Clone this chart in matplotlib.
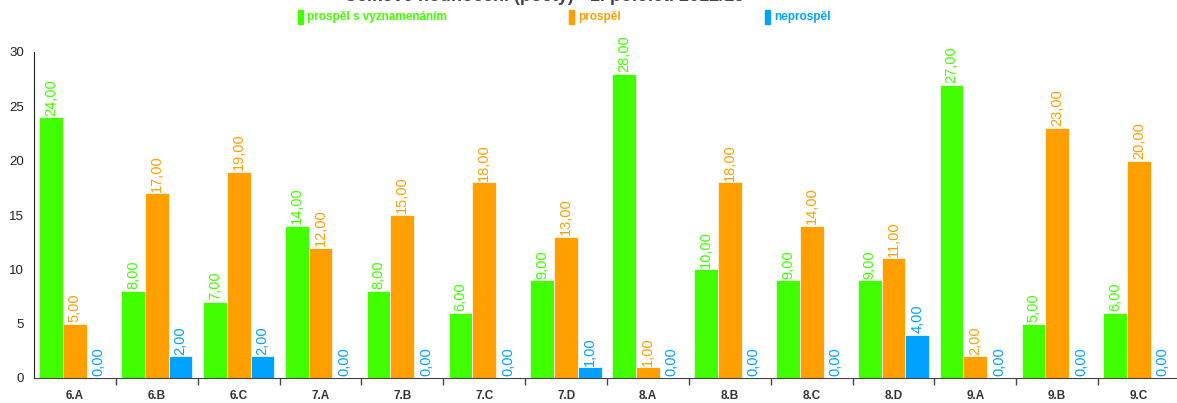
import numpy as np
import matplotlib.pyplot as plt
from matplotlib.patches import Rectangle

tridy = ["6.A", "6.B", "6.C", "7.A", "7.B", "7.C", "7.D",
         "8.A", "8.B", "8.C", "8.D", "9.A", "9.B", "9.C"]
vyznamenani = [24, 8, 7, 14, 8, 6, 9, 28, 10, 9, 9, 27, 5, 6]
prospel = [5, 17, 19, 12, 15, 18, 13, 1, 18, 14, 11, 2, 23, 20]
neprospel = [0, 2, 2, 0, 0, 0, 1, 0, 0, 0, 4, 0, 0, 0]

nazvy = ["prospěl s vyznamenáním", "prospěl", "neprospěl"]
barvy = ["#42ff00", "#ff9f00", "#00a2ff"]
titulek = "Celkové hodnocení (počty) - 1. pololetí 2012/13"

plt.rcParams['font.family'] = ['Liberation Sans', 'DejaVu Sans']

fig = plt.figure(figsize=(11.77, 4.03), dpi=100)
ax = fig.add_axes([34/1177, 25/403, 1146/1177, 326/403])

x = np.arange(len(tridy))
w = 0.29
for i, (hodnoty, barva) in enumerate(zip([vyznamenani, prospel, neprospel], barvy)):
    pos = x + (i - 1) * w
    ax.bar(pos, hodnoty, width=w, color=barva, edgecolor="white", linewidth=0.5)
    for px, v in zip(pos, hodnoty):
        ax.text(px, v + 0.15, f"{v:.2f}".replace(".", ","), rotation=90,
                ha="center", va="bottom", color=barva, fontsize=10.5)

ax.set_xlim(-0.5, len(tridy) - 0.5)
ax.set_ylim(0, 30)
ax.set_yticks([0, 5, 10, 15, 20, 25, 30])
ax.tick_params(axis="y", length=0, labelsize=9.5, labelcolor="#222222", pad=7)

# popisky trid pod osou, carky mezi skupinami
ax.set_xticks(x[:-1] + 0.5)
ax.set_xticklabels([])
ax.tick_params(axis="x", direction="out", length=5, width=1, color="#444444")
for xi, t in zip(x, tridy):
    ax.text(xi, -1.1, t, ha="center", va="top", fontsize=8.5, fontweight="bold",
            color="#333333")

ax.spines["top"].set_visible(False)
ax.spines["right"].set_visible(False)
ax.spines["left"].set_color("#222222")
ax.spines["bottom"].set_color("#444444")

# legenda nahore
leg_x = [298, 569, 765]
for lx, nazev, barva in zip(leg_x, nazvy, barvy):
    fig.patches.append(Rectangle((lx / 1177, 1 - 24/403), 5/1177, 14/403,
                                 transform=fig.transFigure, color=barva))
    fig.text((lx + 9) / 1177, 1 - 17/403, nazev, color=barva, fontsize=8.5,
             fontweight="bold", va="center", ha="left")

fig.text(0.462, 1.008, titulek, ha="center", va="center", fontsize=13,
         fontweight="bold", color="#444444")

fig.savefig("out.png", dpi=100)
